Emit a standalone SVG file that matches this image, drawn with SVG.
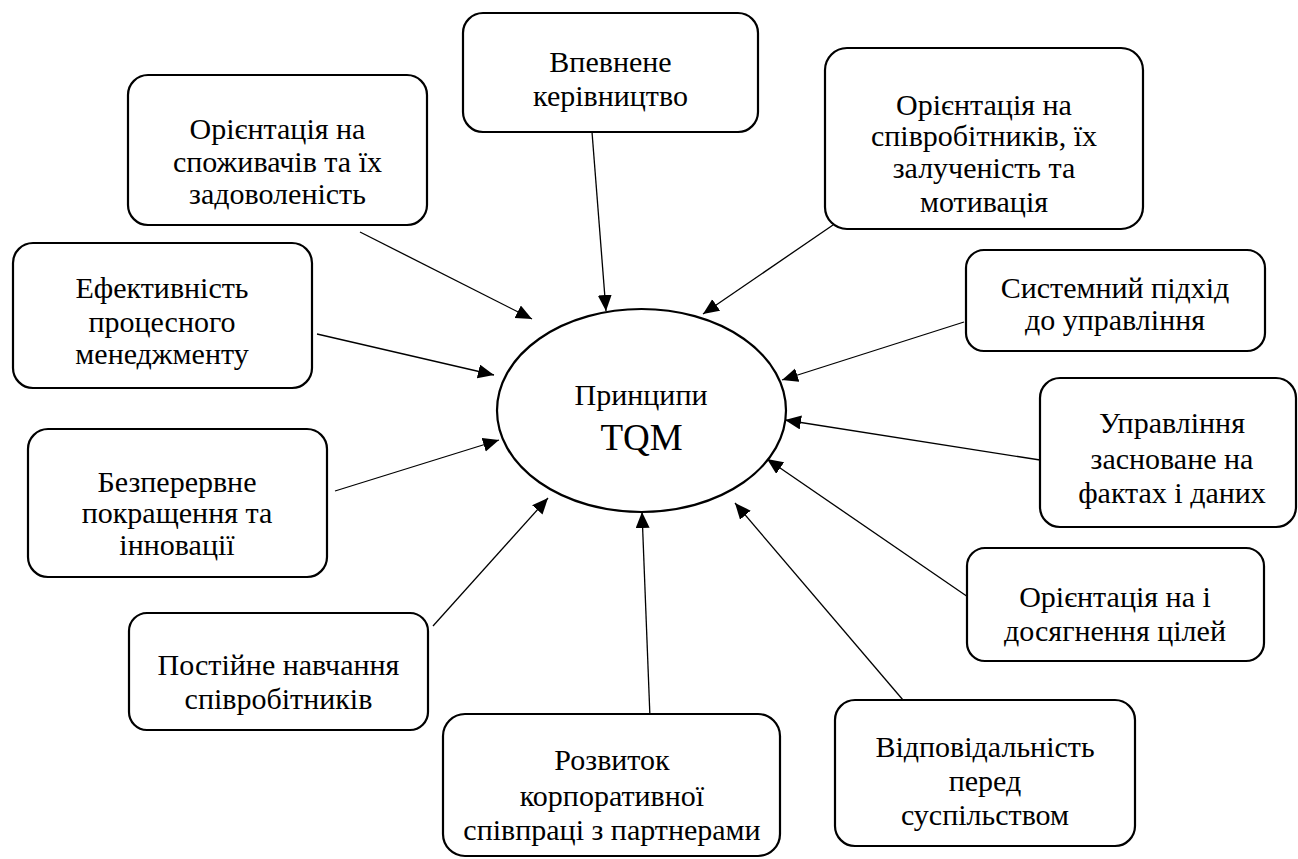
<svg xmlns="http://www.w3.org/2000/svg" width="1298" height="859" viewBox="0 0 1298 859">
<style>
.box{fill:#fff;stroke:#000;stroke-width:2.2}
text{font-family:'Liberation Serif','Times New Roman',Times,serif;font-size:30px;fill:#000;text-anchor:middle}
.c{stroke:#000;stroke-width:1.3;fill:none;marker-end:url(#ah)}
</style>
<defs>
<marker id="ah" markerUnits="userSpaceOnUse" markerWidth="17" markerHeight="15" refX="16" refY="7" orient="auto">
<path d="M0,0 L16,7 L0,14 z" fill="#000"/>
</marker>
</defs>
<rect width="1298" height="859" fill="#fff"/>
<g id="connectors">
<line class="c" x1="592" y1="132" x2="606" y2="311"/>
<line class="c" x1="360" y1="232" x2="532" y2="319"/>
<line class="c" x1="833" y1="225" x2="703" y2="314"/>
<line class="c" x1="317" y1="334" x2="494" y2="375"/>
<line class="c" x1="964" y1="322" x2="782" y2="380"/>
<line class="c" x1="1040" y1="460" x2="785" y2="420"/>
<line class="c" x1="335" y1="491" x2="499" y2="440"/>
<line class="c" x1="968" y1="597" x2="767" y2="459"/>
<line class="c" x1="433" y1="626" x2="548" y2="498"/>
<line class="c" x1="650" y1="718" x2="642" y2="512"/>
<line class="c" x1="903" y1="700" x2="735" y2="503"/>
</g>
<g id="center">
<ellipse cx="641.5" cy="410.5" rx="144.5" ry="101.5" fill="#fff" stroke="#000" stroke-width="2.2"/>
<text x="641" y="405" style="font-size:30px">Принципи</text>
<text x="641.5" y="450" style="font-size:37px">TQM</text>
</g>
<g id="n1">
<rect class="box" x="463" y="13" width="295" height="119" rx="20"/>
<text x="610.5" y="72">Впевнене</text>
<text x="610.5" y="106">керівництво</text>
</g>
<g id="n2">
<rect class="box" x="128" y="75" width="299" height="150" rx="20"/>
<text x="277.5" y="139">Орієнтація на</text>
<text x="277.5" y="172">споживачів та їх</text>
<text x="277.5" y="204">задоволеність</text>
</g>
<g id="n3">
<rect class="box" x="825" y="48" width="318" height="181" rx="22"/>
<text x="984" y="115">Орієнтація на</text>
<text x="984" y="146">співробітників, їх</text>
<text x="984" y="178">залученість та</text>
<text x="984" y="212">мотивація</text>
</g>
<g id="n4">
<rect class="box" x="13" y="243" width="299" height="145" rx="20"/>
<text x="162" y="298">Ефективність</text>
<text x="162" y="332">процесного</text>
<text x="162" y="364">менеджменту</text>
</g>
<g id="n5">
<rect class="box" x="966" y="250" width="299" height="101" rx="18"/>
<text x="1115" y="298">Системний підхід</text>
<text x="1115" y="330">до управління</text>
</g>
<g id="n6">
<rect class="box" x="1040" y="378" width="256" height="149" rx="20"/>
<text x="1172" y="433">Управління</text>
<text x="1172" y="469">засноване на</text>
<text x="1172" y="503">фактах і даних</text>
</g>
<g id="n7">
<rect class="box" x="28" y="429" width="299" height="148" rx="20"/>
<text x="177" y="492">Безперервне</text>
<text x="177" y="523">покращення та</text>
<text x="177" y="555">інновації</text>
</g>
<g id="n8">
<rect class="box" x="967" y="548" width="297" height="113" rx="18"/>
<text x="1115" y="607">Орієнтація на і</text>
<text x="1115" y="641">досягнення цілей</text>
</g>
<g id="n9">
<rect class="box" x="129" y="613" width="299" height="117" rx="18"/>
<text x="278.5" y="675">Постійне навчання</text>
<text x="278.5" y="709">співробітників</text>
</g>
<g id="n10">
<rect class="box" x="443" y="714" width="337" height="142" rx="22"/>
<text x="612" y="770">Розвиток</text>
<text x="612" y="806">корпоративної</text>
<text x="612" y="840">співпраці з партнерами</text>
</g>
<g id="n11">
<rect class="box" x="835" y="700" width="300" height="146" rx="20"/>
<text x="985" y="757">Відповідальність</text>
<text x="985" y="791">перед</text>
<text x="985" y="825">суспільством</text>
</g>
</svg>
